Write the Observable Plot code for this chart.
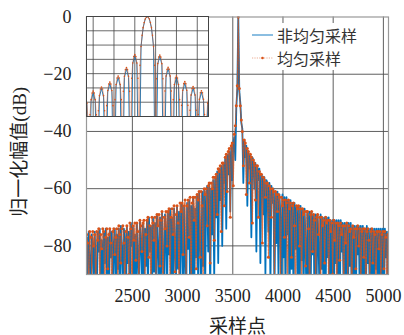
<!DOCTYPE html>
<html><head><meta charset="utf-8">
<script src="https://cdn.jsdelivr.net/npm/d3@7"></script>
<script src="https://cdn.jsdelivr.net/npm/@observablehq/plot@0.6"></script>
<style>
body{margin:0;background:#fff;}
#wrap{position:relative;width:404px;height:335px;overflow:hidden;}
#wrap svg{display:block;}
#inset{position:absolute;left:86px;top:16px;}
#legend{position:absolute;left:248px;top:23px;width:124px;height:47px;background:#fff;font-family:"Noto Sans CJK SC",sans-serif;font-size:16px;color:#333;}
.row{position:absolute;left:0;height:20px;display:flex;align-items:center;white-space:nowrap;}
.row span{margin-left:3px;line-height:20px;}
</style></head><body><div id="wrap"><div id="main"></div><div id="inset"></div><div id="legend"></div></div>
<script>
// ---- data ----
const sampleStart = 2045, sampleStep = 10;           // sample index of first value, spacing
const seriesNames = ["非均匀采样", "均匀采样"];
const seriesColors = ["#0072BD", "#D95319"];
const xTicks = [2500, 3000, 3500, 4000, 4500, 5000];
const yTicks = [0, -20, -40, -60, -80];

const nonUniformDb = [
-77,-92,-75,-84,-101,-76,-79,-95,-75,-88,
-99,-75,-82,-74,-93,-78,-104,-75,-86,-74,
-90,-77,-100,-74,-84,-75,-96,-79,-74,-103,
-76,-88,-74,-99,-73,-81,-94,-74,-77,-105,
-73,-86,-75,-97,-72,-80,-73,-93,-76,-100,
-72,-84,-98,-71,-78,-92,-72,-104,-74,-87,
-71,-96,-70,-82,-73,-100,-70,-89,-72,-95,
-69,-79,-102,-70,-91,-68,-85,-97,-69,-74,
-99,-68,-83,-67,-94,-70,-104,-67,-80,-92,
-66,-88,-68,-100,-65,-77,-95,-66,-86,-103,
-65,-81,-64,-96,-66,-90,-63,-101,-67,-84,
-62,-93,-61,-78,-99,-61,-87,-60,-95,-62,
-59,-82,-58,-97,-60,-76,-57,-91,-56,-70,
-54,-86,-53,-64,-52,-80,-51,-58,-49,-74,
-48,-55,-47,-68,-45,-57,-44,-42,-50,-32,
-25,0,
-26,-30,-37,
-39,-58,-43,-49,-45,
-66,-47,-53,-48,-77,-49,-50,-60,-51,-82,
-52,-57,-53,-86,-55,-56,-69,-56,-90,-57,
-58,-75,-58,-94,-59,-65,-60,-98,-61,-79,
-61,-90,-62,-70,-101,-62,-84,-63,-96,-63,
-76,-64,-103,-64,-88,-65,-98,-65,-81,-66,
-93,-66,-105,-66,-85,-67,-97,-67,-78,-104,
-68,-90,-68,-99,-68,-83,-69,-106,-69,-92,
-69,-80,-100,-69,-88,-70,-103,-70,-94,-70,
-84,-70,-101,-71,-91,-71,-106,-71,-86,-71,
-97,-71,-104,-71,-82,-72,-99,-72,-92,-72,
-107,-72,-87,-72,-100,-73,-94,-73,-105,-73,
-83,-73,-99,-73,-108,-73,-90,-74,-101,-73,
-86,-74,-104,-74,-95,-74,-100,-74,-88,-74,
-106,-74,-97,-74,-91,-74,-103,-74,-84,-75,-100
];

const uniformDb = [
-76,-79,-100,-75,-77,-91,-75,-80,-76,-97,
-75,-78,-74,-96,-76,-81,-74,-75,-99,-77,
-74,-88,-76,-74,-79,-102,-75,-74,-83,-77,
-74,-95,-73,-76,-86,-74,-73,-79,-98,-75,
-73,-77,-90,-72,-74,-100,-73,-78,-72,-85,
-72,-75,-97,-71,-73,-82,-72,-71,-94,-76,
-71,-70,-84,-73,-99,-70,-72,-78,-70,-92,
-69,-73,-69,-87,-71,-68,-101,-70,-74,-68,
-80,-68,-67,-95,-70,-67,-76,-66,-89,-69,
-66,-72,-98,-65,-68,-65,-83,-66,-64,-93,
-66,-64,-77,-63,-99,-65,-63,-71,-63,-88,
-62,-64,-61,-84,-61,-66,-96,-60,-62,-60,
-73,-59,-58,-86,-58,-60,-56,-78,-56,-55,
-69,-53,-54,-52,-75,-51,-51,-66,-49,-48,
-61,-47,-46,-70,-45,-44,-59,-41,-38,-31,
-24,0,
-25,-31,-36,
-40,-52,-43,-44,-62,
-46,-47,-58,-48,-49,-72,-50,-51,-64,-52,
-52,-70,-54,-55,-55,-79,-56,-57,-63,-58,
-58,-84,-59,-60,-70,-60,-61,-91,-61,-62,
-68,-62,-63,-95,-63,-66,-64,-77,-64,-65,
-98,-64,-67,-65,-84,-66,-65,-73,-100,-66,
-67,-66,-80,-67,-96,-67,-69,-68,-87,-68,
-68,-74,-103,-69,-68,-82,-69,-71,-94,-70,
-69,-76,-70,-99,-70,-73,-71,-86,-70,-72,
-71,-97,-71,-75,-72,-90,-71,-78,-72,-101,
-72,-73,-85,-72,-76,-73,-98,-73,-79,-72,
-92,-73,-75,-74,-102,-73,-77,-74,-88,-74,
-73,-80,-74,-97,-75,-74,-84,-74,-100,-75,
-74,-78,-93,-75,-74,-86,-75,-76,-99,-75,
-75,-81,-75,-94,-76,-75,-88,-75,-77,-101,-76
];

// inset (zoom on main lobe): offsets from the peak sample
const insetPeak = 3555, insetOffsetStart = -15;
const insetUniformStep = 0.25, insetNonUniformStep = 0.5;
const insetGridX = [3542, 3547, 3552, 3557, 3562, 3567];
const insetGridY = [-5, -10, -15, -20, -25, -30];
const insetUniformDb = [
-27.4,-28.1,-30.4,-35.7,-70,
-34.4,-29.1,-26.8,-26.1,-26.8,-29.1,-34.4,-70,
-33.0,-27.7,-25.4,-24.7,-25.4,-27.7,-33.0,-70,
-31.2,-25.9,-23.6,-22.9,-23.6,-25.9,-31.2,-70,
-29.1,-23.8,-21.5,-20.8,-21.5,-23.8,-29.1,-70,
-26.2,-20.9,-18.6,-17.9,-18.6,-20.9,-26.2,-70,
-21.6,-16.3,-14.0,-13.3,-14.0,-16.3,-21.6,-70,
-17.1,-10.5,-6.6,-3.9,-2.1,-0.9,-0.2,0,
-0.2,-0.9,-2.1,-3.9,-6.6,-10.5,-17.1,-70,
-21.8,-16.5,-14.2,-13.5,-14.2,-16.5,-21.8,-70,
-26.1,-20.8,-18.5,-17.8,-18.5,-20.8,-26.1,-70,
-29.1,-23.8,-21.5,-20.8,-21.5,-23.8,-29.1,-70,
-31.1,-25.8,-23.5,-22.8,-23.5,-25.8,-31.1,-70,
-32.8,-27.5,-25.2,-24.5,-25.2,-27.5,-32.8,-70,
-34.3,-29.0,-26.7,-26.0,-26.7,-29.0,-34.3,-70,
-35.7,-30.4,-28.1,-27.4
];
const insetNonUniformDb = [
-27.9,-30.9,-70,
-29.6,-26.6,-29.6,-70,
-28.2,-25.2,-28.2,-70,
-26.4,-23.4,-26.4,-70,
-24.3,-21.3,-24.3,-70,
-21.3,-18.3,-21.3,-70,
-16.6,-13.6,-16.6,-70,
-10.5,-3.9,-0.9,0,
-0.9,-3.9,-10.5,-70,
-16.8,-13.8,-16.8,-70,
-21.2,-18.2,-21.2,-70,
-24.3,-21.3,-24.3,-70,
-26.3,-23.3,-26.3,-70,
-28.0,-25.0,-28.0,-70,
-29.5,-26.5,-29.5,-70,
-30.9,-27.9
];

// ---- build tables ----
const nonUniform = nonUniformDb.map((v, i) => ({x: sampleStart + i * sampleStep, y: v}));
const uniform = uniformDb.map((v, i) => ({x: sampleStart + i * sampleStep, y: v}));
const insetUni = insetUniformDb.map((v, i) => ({x: insetPeak + insetOffsetStart + i * insetUniformStep, y: v}));
const insetNon = insetNonUniformDb.map((v, i) => ({x: insetPeak + insetOffsetStart + i * insetNonUniformStep, y: v}));

const serif = '"Liberation Serif","Noto Sans CJK SC",serif';
const minus = d => d === 0 ? "0" : "\u2212" + Math.abs(d);

const main = Plot.plot({
  width: 404, height: 335,
  marginLeft: 86, marginRight: 16, marginTop: 16.5, marginBottom: 61,
  style: {fontFamily: serif, fontSize: "18px", color: "#222", background: "transparent"},
  x: {domain: [2043, 5051], ticks: xTicks, tickFormat: d => String(d), tickSize: 0, tickPadding: 15,
      label: "采样点", labelAnchor: "center", labelOffset: 58, labelArrow: "none"},
  y: {domain: [-90, 0], ticks: yTicks, tickFormat: minus, tickSize: 0, tickPadding: 15,
      label: "归一化幅值(dB)", labelAnchor: "center", labelOffset: 74, labelArrow: "none"},
  marks: [
    Plot.ruleX(xTicks, {stroke: "#4d4d4d", strokeWidth: 0.9}),
    Plot.ruleY(yTicks.filter(d => d < 0), {stroke: "#4d4d4d", strokeWidth: 0.9}),
    Plot.line(nonUniform, {x: "x", y: "y", stroke: seriesColors[0], strokeWidth: 1.8, clip: true}),
    Plot.line(uniform, {x: "x", y: "y", stroke: seriesColors[1], strokeWidth: 1.1, strokeOpacity: 0.8, strokeDasharray: "2,1", clip: true}),
    Plot.dot(uniform, {x: "x", y: "y", r: 1.5, fill: seriesColors[1], clip: true}),
    Plot.frame({stroke: "#999", strokeWidth: 1.2})
  ]
});
// nudge and enlarge the rotated y label a little (it sits slightly below centre in the reference)
d3.select(main).selectAll('g[aria-label="y-axis label"] text').attr("dx", "-6").style("font-size", "19px");
d3.select(main).selectAll('g[aria-label="x-axis label"] text').style("font-size", "19px");
document.getElementById("main").appendChild(main);

const inset = Plot.plot({
  width: 123, height: 101, marginTop: 0, marginLeft: 0, marginRight: 1, marginBottom: 1,
  style: {background: "white"},
  x: {domain: [insetPeak - 14.6, insetPeak + 14.7], axis: null},
  y: {domain: [-35, 0], axis: null},
  marks: [
    Plot.frame({fill: "white"}),
    Plot.ruleX(insetGridX, {stroke: "#444", strokeWidth: 0.8}),
    Plot.ruleY(insetGridY, {stroke: "#444", strokeWidth: 0.8}),
    Plot.line(insetNon, {x: "x", y: "y", stroke: seriesColors[0], strokeWidth: 0.9, clip: true}),
    Plot.line(insetUni, {x: "x", y: "y", stroke: seriesColors[1], strokeWidth: 0.8, strokeOpacity: 0.65, clip: true}),
    Plot.dot(insetUni, {x: "x", y: "y", r: 0.8, fill: seriesColors[1], clip: true}),
    Plot.frame({stroke: "#444", strokeWidth: 1})
  ]
});
document.getElementById("inset").appendChild(inset);

// legend
const legend = document.getElementById("legend");
seriesNames.forEach((name, k) => {
  const row = document.createElement("div");
  row.className = "row";
  row.style.top = (k === 0 ? 1.5 : 25) + "px";
  const sw = k === 0
    ? `<svg width="26" height="20"><line x1="4" x2="25" y1="10" y2="10" stroke="${seriesColors[0]}" stroke-width="1.3" stroke-opacity="0.7"/></svg>`
    : `<svg width="26" height="20"><line x1="4" x2="25" y1="10" y2="10" stroke="${seriesColors[1]}" stroke-width="0.8" stroke-opacity="0.6" stroke-dasharray="1.2,1.2"/><circle cx="14.5" cy="10" r="1.3" fill="${seriesColors[1]}"/></svg>`;
  row.innerHTML = sw + `<span>${name}</span>`;
  legend.appendChild(row);
});
</script></body></html>
